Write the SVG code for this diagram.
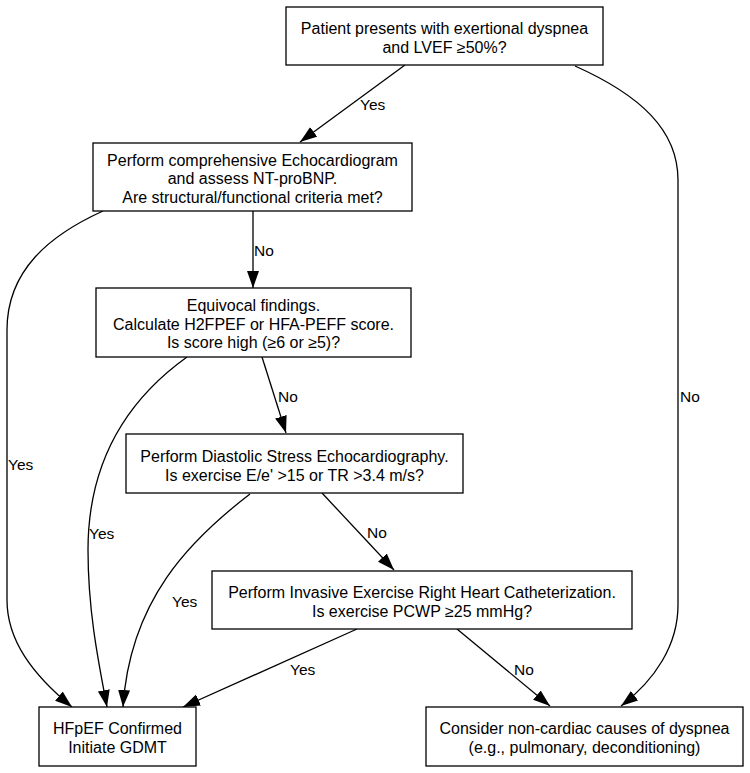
<svg xmlns="http://www.w3.org/2000/svg" width="750" height="773" viewBox="0 0 750 773">
<style>
.box{fill:#fff;stroke:#000;stroke-width:1.3}
.nt{font-family:"Liberation Sans",Arial,sans-serif;font-size:16px;fill:#000;text-anchor:middle}
.el{font-family:"Liberation Sans",Arial,sans-serif;font-size:15.5px;fill:#000}
.edge{fill:none;stroke:#000;stroke-width:1.3;marker-end:url(#arr)}
</style>
<defs>
<marker id="arr" markerUnits="userSpaceOnUse" markerWidth="18" markerHeight="13" refX="17" refY="6" orient="auto">
<path d="M0,0 L17,6 L0,12 z" fill="#000"/>
</marker>
</defs>
<rect width="750" height="773" fill="#fff"/>
<g id="connectors">
<path class="edge" d="M405,65 L300,142"/>
<text class="el" x="360" y="110">Yes</text>
<path class="edge" d="M575,66 C640,95 678,130 678,180 L678,605 C678,645 655,680 621,706"/>
<text class="el" x="680" y="402">No</text>
<path class="edge" d="M253,211 L253,288"/>
<text class="el" x="254" y="256">No</text>
<path class="edge" d="M103,211 C50,235 7,270 7,330 L7,600 C7,640 32,674 72,707"/>
<text class="el" x="8" y="470">Yes</text>
<path class="edge" d="M187,357 C120,405 88,470 88,550 C88,610 98,660 107,707"/>
<text class="el" x="89" y="539">Yes</text>
<path class="edge" d="M262,357 L286,433"/>
<text class="el" x="278" y="402">No</text>
<path class="edge" d="M250,494 C190,540 130,600 123,707"/>
<text class="el" x="172" y="607">Yes</text>
<path class="edge" d="M322,493 L394,570"/>
<text class="el" x="367" y="538">No</text>
<path class="edge" d="M357,629 L183,707"/>
<text class="el" x="290" y="675">Yes</text>
<path class="edge" d="M457,629 L550,706"/>
<text class="el" x="514" y="675">No</text>
</g>
<g id="n1">
<rect class="box" x="286" y="7" width="317" height="58"/>
<text class="nt" x="444.5" y="34">Patient presents with exertional dyspnea</text>
<text class="nt" x="444.5" y="53">and LVEF ≥50%?</text>
</g>
<g id="n2">
<rect class="box" x="93" y="143" width="319" height="68"/>
<text class="nt" x="252.5" y="165.5">Perform comprehensive Echocardiogram</text>
<text class="nt" x="252.5" y="184">and assess NT-proBNP.</text>
<text class="nt" x="252.5" y="202.5">Are structural/functional criteria met?</text>
</g>
<g id="n3">
<rect class="box" x="96" y="288" width="315" height="69"/>
<text class="nt" x="253.5" y="311">Equivocal findings.</text>
<text class="nt" x="253.5" y="329.5">Calculate H2FPEF or HFA-PEFF score.</text>
<text class="nt" x="253.5" y="348">Is score high (≥6 or ≥5)?</text>
</g>
<g id="n4">
<rect class="box" x="126" y="434" width="337" height="59"/>
<text class="nt" x="294.5" y="462">Perform Diastolic Stress Echocardiography.</text>
<text class="nt" x="294.5" y="480.5">Is exercise E/e' &gt;15 or TR &gt;3.4 m/s?</text>
</g>
<g id="n5">
<rect class="box" x="212" y="571" width="420" height="58"/>
<text class="nt" x="422" y="598">Perform Invasive Exercise Right Heart Catheterization.</text>
<text class="nt" x="422" y="616.5">Is exercise PCWP ≥25 mmHg?</text>
</g>
<g id="n6">
<rect class="box" x="39" y="707" width="157" height="59"/>
<text class="nt" x="117.5" y="734">HFpEF Confirmed</text>
<text class="nt" x="117.5" y="752.5">Initiate GDMT</text>
</g>
<g id="n7">
<rect class="box" x="426" y="707" width="317" height="59"/>
<text class="nt" x="584.5" y="734">Consider non-cardiac causes of dyspnea</text>
<text class="nt" x="584.5" y="752.5">(e.g., pulmonary, deconditioning)</text>
</g>
</svg>
